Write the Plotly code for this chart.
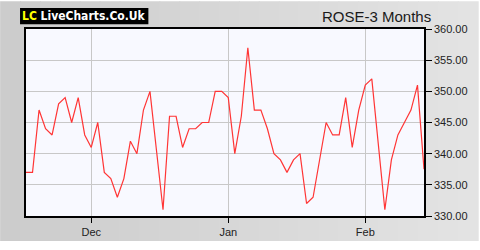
import plotly.graph_objects as go

# Daily closing prices (trading-day index)
prices = [337, 337, 347, 344, 343, 348, 349, 345, 349, 343,
          341, 345, 337, 336, 333, 336, 342, 340, 347, 350,
          340.5, 331, 346, 346, 341, 344, 344, 345, 345, 350,
          350, 349, 340, 346, 357, 347, 347, 344, 340, 339,
          337, 339, 340, 332, 333, 339, 345, 343, 343, 349,
          341, 347, 351, 352, 341.5, 331, 339, 343, 345, 347,
          351, 337.5]
month_labels = ["Dec", "Jan", "Feb"]
month_start_index = [10, 31, 52]
y_ticks = [330, 335, 340, 345, 350, 355, 360]

x = list(range(len(prices)))

W, H = 480, 250
L, R, T, B = 26, 54, 29, 26
PW, PH = W - L - R, H - T - B


def px_x(p):
    return (p - L) / PW


def px_y(p):
    return 1 - (p - T) / PH


fig = go.Figure()
fig.add_trace(go.Scatter(x=x, y=prices, mode="lines",
                         line=dict(color="#ff3535", width=1.2),
                         hoverinfo="skip", showlegend=False))

shapes = []
# background gradient strips
n = 24
c0, c1 = 0xcc, 0xe3
for i in range(n):
    v = int(c0 + (c1 - c0) * i / (n - 1))
    col = "#%02x%02x%02x" % (v, v, v)
    shapes.append(dict(type="rect", xref="paper", yref="paper",
                       x0=px_x(W * i / n), x1=px_x(W * (i + 1) / n + 1),
                       y0=px_y(H), y1=px_y(0), fillcolor=col,
                       line=dict(width=0), layer="below"))
# plot area background
shapes.append(dict(type="rect", xref="paper", yref="paper", x0=0, x1=1, y0=0, y1=1,
                   fillcolor="#f8f9ff", line=dict(width=0), layer="below"))
# logo box
shapes.append(dict(type="rect", xref="paper", yref="paper",
                   x0=px_x(20), x1=px_x(149), y0=px_y(24), y1=px_y(7),
                   fillcolor="black", line=dict(width=0), layer="below"))

annotations = [
    dict(xref="paper", yref="paper", x=px_x(84.5), y=px_y(15.5), xanchor="center", yanchor="middle",
         text="<span style='color:#ffff00'>LC</span> LiveCharts.Co.Uk", showarrow=False,
         font=dict(family="DejaVu Sans Condensed", size=12, color="white", weight="bold")),
    dict(xref="paper", yref="paper", x=px_x(435), y=px_y(16), xanchor="right", yanchor="middle",
         text="ROSE-3 Months", showarrow=False,
         font=dict(family="Liberation Sans", size=15, color="#1a1a1a")),
]

fig.update_layout(
    width=W, height=H,
    margin=dict(l=L, r=R, t=T, b=B, pad=0),
    paper_bgcolor="white", plot_bgcolor="rgba(0,0,0,0)",
    shapes=shapes, annotations=annotations,
    xaxis=dict(range=[0, len(prices) - 1], tickvals=month_start_index, ticktext=month_labels,
               showgrid=True, gridcolor="#c8c8c8", gridwidth=1, zeroline=False,
               showline=True, linecolor="black", linewidth=1.5, mirror=True,
               ticks="outside", ticklen=5, tickcolor="black",
               tickfont=dict(family="Liberation Sans", size=11, color="#222")),
    yaxis=dict(range=[330, 360], tickvals=y_ticks, tickformat=".2f", side="right",
               showgrid=True, gridcolor="#c8c8c8", gridwidth=1, zeroline=False,
               showline=True, linecolor="black", linewidth=1.5, mirror=True,
               ticks="outside", ticklen=6, tickcolor="black",
               tickfont=dict(family="Liberation Sans", size=11, color="#222")),
)

fig.write_html("out.html")
